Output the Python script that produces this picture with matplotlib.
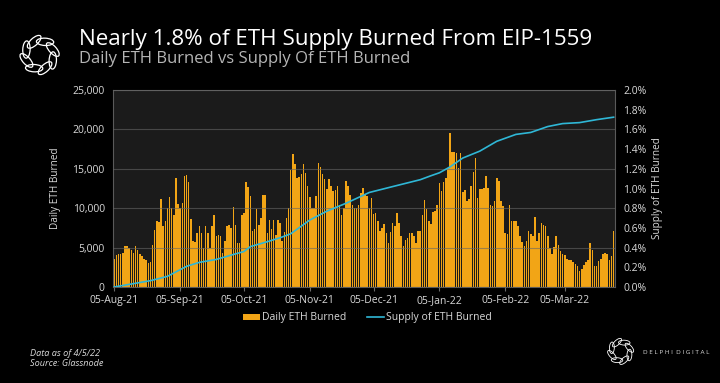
import numpy as np
import pandas as pd
import matplotlib.pyplot as plt
from matplotlib.patches import Ellipse, Patch
from matplotlib.lines import Line2D
from matplotlib.ticker import FuncFormatter, MultipleLocator

plt.rcParams['font.family'] = ['Open Sans', 'DejaVu Sans']

# ============================================
# DATA
# ============================================

start_date = "2021-08-05"

daily_burned = [
    3500, 4100, 4240, 4240, 4300, 5250, 5170, 4900, 4700, 4300,
    5250, 4700, 4200, 3900, 3550, 3400, 3050, 3140, 5380, 7200,
    8350, 8200, 11200, 7700, 8350, 10050, 11450, 10050, 9200, 13860,
    10500, 10050, 10700, 14080, 14200, 13300, 8650, 5800, 5680, 6800,
    7700, 6870, 4960, 7700, 6870, 4960, 7800, 9200, 6530, 6650,
    6500, 4300, 5800, 7700, 7900, 7500, 10200, 7930, 5600, 5600,
    9200, 9400, 13300, 12700, 11500, 7080, 7380, 9840, 7930, 8780,
    11740, 11740, 6870, 8560, 7300, 8560, 6650, 8560, 8140, 5800,
    7000, 8780, 10050, 14800, 16830, 15560, 13800, 14000, 14400, 15560,
    14500, 12800, 11400, 10050, 10050, 11600, 15690, 15260, 14290, 13650,
    12500, 13650, 12800, 12170, 12300, 12800, 10470, 9200, 10000, 13440,
    12800, 11740, 10470, 10050, 10050, 10400, 11950, 12600, 11800, 11500,
    10050, 11320, 9300, 9450, 8350, 7080, 7500, 8060, 6870, 5600,
    7000, 8140, 7800, 9450, 8140, 6500, 5170, 6020, 6200, 6900,
    6870, 6450, 5600, 7080, 7080, 9200, 11000, 9840, 8350, 8000,
    9500, 9620, 10470, 13230, 12170, 13300, 13860, 15140, 19500, 17130,
    17130, 16960, 15140, 17000, 12040, 12300, 10900, 11200, 12800, 14600,
    16400, 11320, 12380, 12380, 12600, 14080, 12600, 10350, 10260, 10900,
    13860, 13440, 10900, 10260, 6870, 6780, 10350, 8350, 8350, 8350,
    7720, 6500, 5700, 5170, 5800, 7080, 6780, 6450, 8900, 5900,
    6870, 8140, 7900, 7720, 6450, 5000, 4200, 5090, 6530, 5380,
    4600, 4240, 4000, 3500, 3480, 3390, 3200, 2900, 2630, 2000,
    2300, 2840, 3140, 3400, 5600, 4750, 2710, 2700, 3260, 3560,
    4200, 4330, 4240, 3480, 3950, 7080,
]

supply_dates = [
    "2021-08-05", "2021-08-14", "2021-08-22", "2021-08-30", "2021-09-08",
    "2021-09-14", "2021-09-22", "2021-09-30", "2021-10-05", "2021-10-08",
    "2021-10-16", "2021-10-22", "2021-10-27", "2021-11-05", "2021-11-13",
    "2021-11-22", "2021-12-03", "2021-12-14", "2021-12-27", "2022-01-01",
    "2022-01-05", "2022-01-10", "2022-01-16", "2022-01-24", "2022-02-01",
    "2022-02-10", "2022-02-17", "2022-02-25", "2022-03-04", "2022-03-12",
    "2022-03-20", "2022-03-28",
]
supply_pct = [
    0.000, 0.034, 0.064, 0.108, 0.210,
    0.250, 0.280, 0.330, 0.360, 0.410,
    0.460, 0.500, 0.540, 0.680, 0.770,
    0.850, 0.960, 1.020, 1.090, 1.130,
    1.160, 1.220, 1.310, 1.380, 1.480,
    1.550, 1.570, 1.630, 1.660, 1.670,
    1.700, 1.725,
]

tick_dates = [
    "2021-08-05", "2021-09-05", "2021-10-05", "2021-11-05",
    "2021-12-05", "2022-01-05", "2022-02-05", "2022-03-05",
]
tick_labels = [
    "05-Aug-21", "05-Sep-21", "05-Oct-21", "05-Nov-21",
    "05-Dec-21", "05-Jan-22", "05-Feb-22", "05-Mar-22",
]

# ============================================
# STYLE
# ============================================

BAR_COLOR = "#F2A516"
LINE_COLOR = "#2FB7D6"
PLOT_BG = "#1b1b1b"
GRID_COLOR = "#666666"
TEXT_COLOR = "#d9d9d9"

dates = pd.date_range(start_date, periods=len(daily_burned), freq="D")
sup_dates = pd.to_datetime(supply_dates)

fig = plt.figure(figsize=(7.2, 3.83), dpi=100)
fig.patch.set_facecolor("black")

ax = fig.add_axes([0.157, 0.2507, 0.697, 0.514])
ax.set_facecolor(PLOT_BG)

ax.bar(dates, daily_burned, width=0.72, color=BAR_COLOR, zorder=2)

ax.set_ylim(0, 25000)
ax.yaxis.set_major_locator(MultipleLocator(5000))
ax.yaxis.set_major_formatter(FuncFormatter(lambda v, p: f"{int(v):,}"))
ax.set_xlim(dates[0] - pd.Timedelta(days=0.6), dates[-1] + pd.Timedelta(days=0.6))
ax.set_xticks(pd.to_datetime(tick_dates))
ax.set_xticklabels(tick_labels)

ax.grid(axis="y", color=GRID_COLOR, linewidth=0.8, alpha=0.6)
ax.set_axisbelow(False)

for side in ["left", "right", "top", "bottom"]:
    ax.spines[side].set_color("#5a5a5a")
    ax.spines[side].set_linewidth(0.8)

ax.tick_params(axis="x", colors=TEXT_COLOR, labelsize=7.5, length=3,
               width=0.8, color="#6a6a6a", pad=3)
ax.tick_params(axis="y", colors=TEXT_COLOR, labelsize=7.5, length=0, pad=6)
ax.set_ylabel("Daily ETH Burned", color=TEXT_COLOR, fontsize=7.2, labelpad=8)

ax2 = ax.twinx()
ax2.plot(sup_dates, supply_pct, color=LINE_COLOR, linewidth=1.2, zorder=5)
ax2.set_ylim(0, 2.0)
ax2.yaxis.set_major_locator(MultipleLocator(0.2))
ax2.yaxis.set_major_formatter(FuncFormatter(lambda v, p: f"{v:.1f}%"))
ax2.tick_params(axis="y", colors=TEXT_COLOR, labelsize=7.5, length=0, pad=6)
ax2.set_ylabel("Supply of ETH Burned", color=TEXT_COLOR, fontsize=7.2,
               rotation=90, labelpad=4)
for side in ["left", "right", "top", "bottom"]:
    ax2.spines[side].set_visible(False)

# ============================================
# LEGEND
# ============================================

handles = [
    Patch(facecolor=BAR_COLOR, edgecolor="none", label="Daily ETH Burned"),
    Line2D([0], [0], color=LINE_COLOR, linewidth=1.2, label="Supply of ETH Burned"),
]
fig.legend(handles=handles, loc="center", bbox_to_anchor=(0.51, 0.17),
           ncol=2, frameon=False, fontsize=7.5, labelcolor=TEXT_COLOR,
           handlelength=1.6, handleheight=0.5, handletextpad=0.2,
           columnspacing=2.0)

# ============================================
# TITLES AND FOOTER
# ============================================

fig.text(0.11, 0.898, "Nearly 1.8% of ETH Supply Burned From EIP-1559",
         color="white", fontsize=16.1, ha="left", va="center")
fig.text(0.11, 0.846, "Daily ETH Burned vs Supply Of ETH Burned",
         color="#b5b5b5", fontsize=12, ha="left", va="center")

fig.text(0.042, 0.078, "Data as of 4/5/22", color=TEXT_COLOR, fontsize=6.6,
         style="italic", ha="left", va="center")
fig.text(0.042, 0.050, "Source: Glassnode", color=TEXT_COLOR, fontsize=6.6,
         style="italic", ha="left", va="center")
fig.text(0.893, 0.080, "D E L P H I  D I G I T A L", color=TEXT_COLOR,
         fontsize=4.6, ha="left", va="center")


def draw_logo(rect, lw):
    lax = fig.add_axes(rect)
    lax.set_xlim(-1, 1)
    lax.set_ylim(-1, 1)
    lax.set_aspect("equal")
    lax.axis("off")
    for k in range(8):
        ang = np.deg2rad(k * 45 + 22.5)
        cx, cy = 0.66 * np.cos(ang), 0.66 * np.sin(ang)
        lax.add_patch(Ellipse((cx, cy), 0.34, 0.80,
                              angle=np.rad2deg(ang) + 20, fill=False,
                              edgecolor="white", linewidth=lw))


draw_logo([0.025, 0.80, 0.06, 0.1128], 0.9)
draw_logo([0.842, 0.045, 0.04, 0.075], 0.6)

fig.savefig("out.png", dpi=100, facecolor=fig.get_facecolor())
